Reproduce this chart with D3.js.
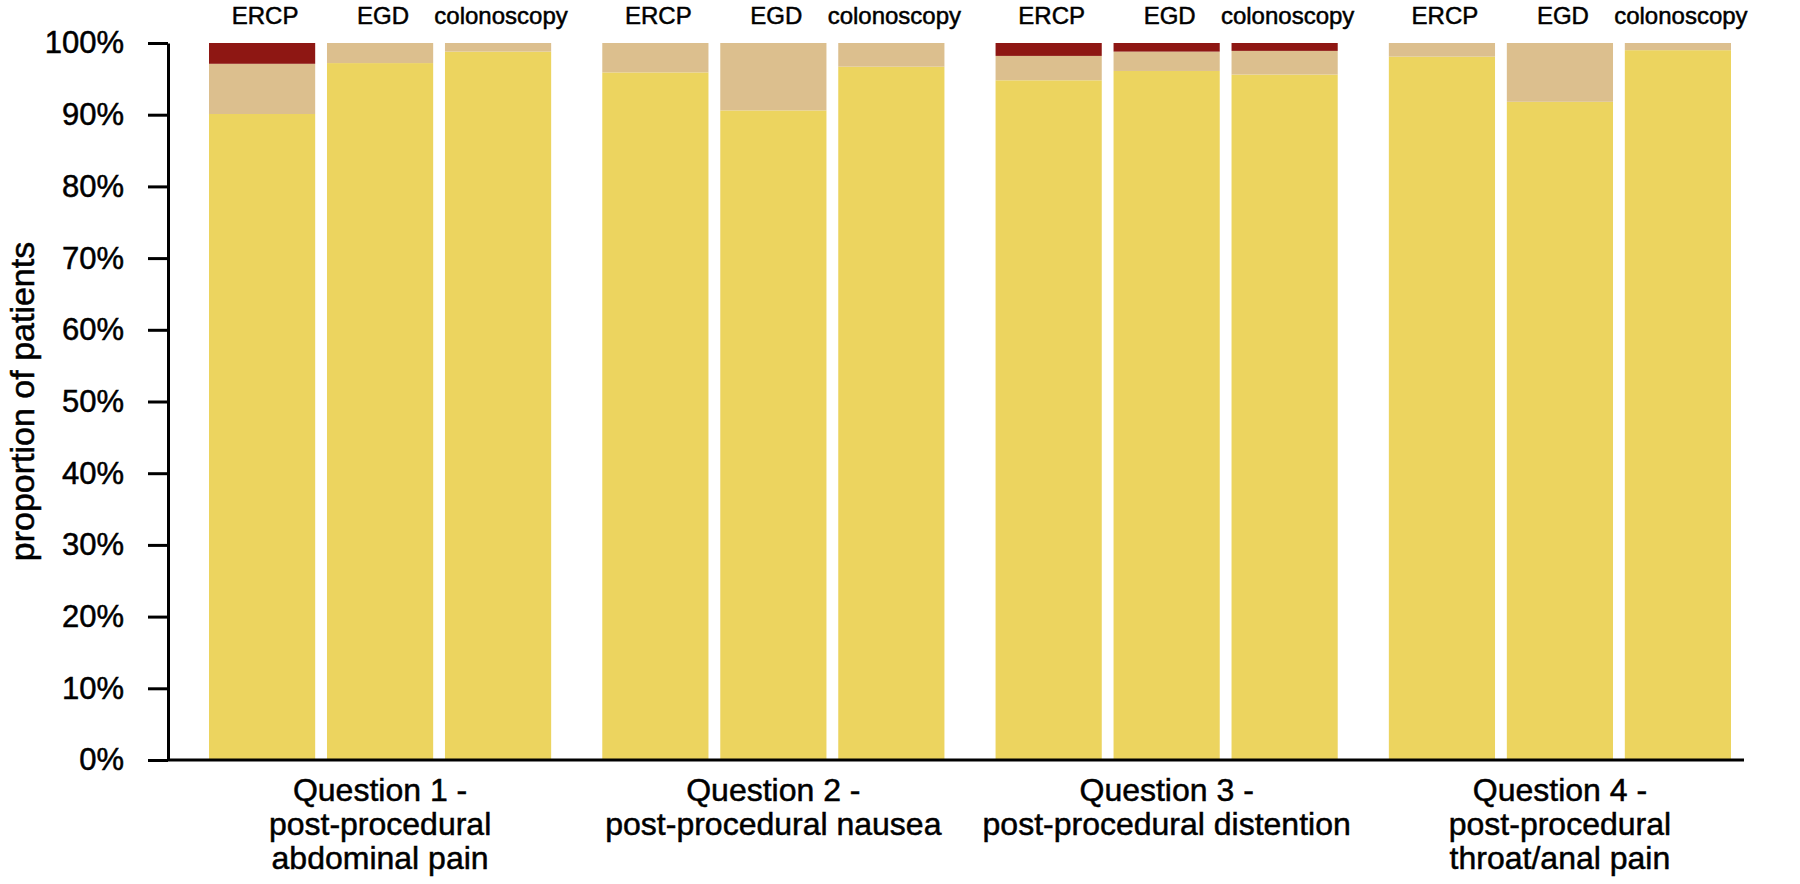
<!DOCTYPE html>
<html>
<head>
<meta charset="utf-8">
<script src="https://cdn.jsdelivr.net/npm/d3@7"></script>
<style>
  body { margin: 0; background: #fff; }
  text { font-family: "Liberation Sans", Arial, Helvetica, sans-serif; fill: #000; stroke: #000; stroke-width: 0.5px; }
</style>
</head>
<body>
<div id="chart"></div>
<script>
// chart data (percent of patients)
var questions = ["Question 1", "Question 2", "Question 3", "Question 4"];
var questionLabels = [
  ["Question 1 -", "post-procedural", "abdominal pain"],
  ["Question 2 -", "post-procedural nausea"],
  ["Question 3 -", "post-procedural distention"],
  ["Question 4 -", "post-procedural", "throat/anal pain"]
];
var procedures = ["ERCP", "EGD", "colonoscopy"];
// order: Q1 ERCP, Q1 EGD, Q1 colonoscopy, Q2 ERCP, ...
var noneValues   = [90.1, 97.2, 98.8, 95.9, 90.6, 96.7, 94.8, 96.1, 95.6, 98.1, 91.8, 99.0];
var mildValues   = [7.0, 2.8, 1.2, 4.1, 9.4, 3.3, 3.4, 2.7, 3.3, 1.9, 8.2, 1.0];
var severeValues = [2.9, 0, 0, 0, 0, 0, 1.8, 1.2, 1.1, 0, 0, 0];
var yTicks = [0, 10, 20, 30, 40, 50, 60, 70, 80, 90, 100];

var keys = ["none", "mild", "severe"];
var colors = ["#ecd45f", "#dcbf8e", "#8e1713"];

// build rows for the stack
var rows = [];
questions.forEach(function (q, i) {
  procedures.forEach(function (p, j) {
    var k = i * procedures.length + j;
    rows.push({ question: q, procedure: p, none: noneValues[k], mild: mildValues[k], severe: severeValues[k] });
  });
});

var margin = { top: 43, right: 56, bottom: 124, left: 168 },
    w = 1800 - margin.left - margin.right,
    h = 884 - margin.top - margin.bottom;

var svg = d3.select("#chart").append("svg")
  .attr("width", 1800).attr("height", 884)
  .append("g")
  .attr("transform", "translate(" + margin.left + "," + margin.top + ")");

var x0 = d3.scaleBand().domain(questions).range([41, 1563]).paddingInner(0.13).paddingOuter(0);
var x1 = d3.scaleBand().domain(procedures).range([0, x0.bandwidth()]).paddingInner(0.1).paddingOuter(0);
var y = d3.scaleLinear().domain([0, 100]).range([h, 0]);
var color = d3.scaleOrdinal().domain(keys).range(colors);

var series = d3.stack().keys(keys)(rows);

// bars
svg.append("g").selectAll("g")
  .data(series)
  .join("g")
  .attr("fill", function (d) { return color(d.key); })
  .selectAll("rect")
  .data(function (d) { return d; })
  .join("rect")
  .attr("x", function (d) { return x0(d.data.question) + x1(d.data.procedure); })
  .attr("y", function (d) { return y(d[1]); })
  .attr("width", x1.bandwidth())
  .attr("height", function (d) { return y(d[0]) - y(d[1]); });

// procedure labels above each bar
var heads = svg.append("g").selectAll("g")
  .data(questions)
  .join("g")
  .attr("transform", function (d) { return "translate(" + x0(d) + ",0)"; });
heads.selectAll("text")
  .data(procedures)
  .join("text")
  .attr("x", function (d) { return x1(d) + x1.bandwidth() / 2 + 3; })
  .attr("y", -19)
  .attr("text-anchor", "middle")
  .style("font-size", "24px")
  .text(function (d) { return d; });

// y axis
var yAxis = d3.axisLeft(y)
  .tickValues(yTicks)
  .tickSize(20)
  .tickSizeOuter(0)
  .tickPadding(24)
  .tickFormat(function (d) { return d + "%"; });
var gy = svg.append("g").call(yAxis);
gy.select(".domain").attr("stroke-width", 3);
gy.selectAll(".tick line").attr("stroke-width", 3);
gy.selectAll(".tick text").style("font-size", "31px").attr("fill", "#000");

// x baseline
svg.append("line")
  .attr("x1", 0).attr("x2", w)
  .attr("y1", y(0)).attr("y2", y(0))
  .attr("stroke", "#000").attr("stroke-width", 3);

// question labels
var qLab = svg.append("g").selectAll("text")
  .data(questions)
  .join("text")
  .attr("text-anchor", "middle")
  .style("font-size", "32px");
qLab.selectAll("tspan")
  .data(function (d, i) { return questionLabels[i].map(function (s) { return { q: d, s: s }; }); })
  .join("tspan")
  .attr("x", function (d) { return x0(d.q) + x0.bandwidth() / 2; })
  .attr("y", function (d, i) { return h + 41 + i * 34; })
  .text(function (d) { return d.s; });

// y title
svg.append("text")
  .attr("transform", "rotate(-90)")
  .attr("x", -h / 2)
  .attr("y", -134)
  .attr("text-anchor", "middle")
  .style("font-size", "34px")
  .text("proportion of patients");
</script>
</body>
</html>
